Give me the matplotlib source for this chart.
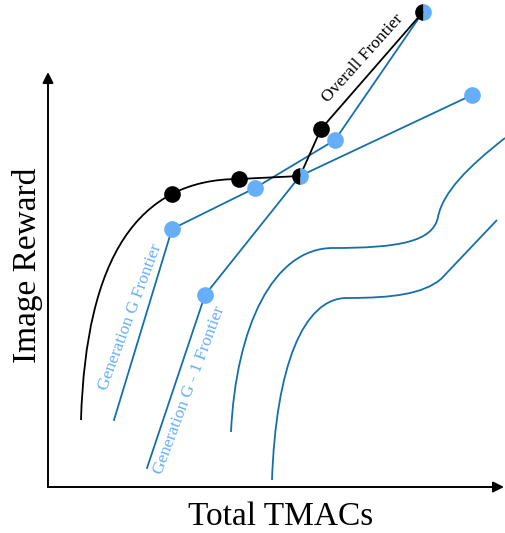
#!/usr/bin/env python3
"""
Schematic of the frontier search: Image Reward vs Total TMACs,
with the generation frontiers (blue) and the overall frontier (black).
"""

import matplotlib
matplotlib.use("Agg")
import matplotlib.pyplot as plt
from matplotlib.path import Path
from matplotlib.patches import PathPatch

# ---- data (schematic units, origin at the axis corner) ----
# generation G frontier (line + points)
gen_g_x = [66, 124, 207, 287, 375]
gen_g_y = [67, 258, 299, 347, 475]
gen_g_pts_x = [124, 207, 287]
gen_g_pts_y = [258, 299, 347]

# generation G - 1 frontier
gen_g1_x = [99, 157, 252, 424]
gen_g1_y = [19, 192, 311, 392]
gen_g1_pts_x = [157, 424]
gen_g1_pts_y = [192, 392]

# overall frontier: curved start, then straight segments
overall_curve_x = [33, 38, 90, 191]
overall_curve_y = [67, 230, 308, 308]
overall_line_x = [252, 273, 375]
overall_line_y = [311, 358, 475]
overall_pts_x = [124, 191, 273]
overall_pts_y = [293, 308, 358]

# points shared by both frontiers (half black / half blue)
shared_x = [252, 375]
shared_y = [311, 475]

# older frontiers (bezier control points, 3 segments / 2 segments + line)
old1_x = [183, 188, 225, 285, 350, 385, 390, 395, 420, 457]
old1_y = [55, 160, 239, 239, 239, 245, 270, 295, 320, 349]
old2_x = [224, 228, 255, 299, 345, 375, 393, 449]
old2_y = [7, 120, 189, 189, 189, 193, 208, 267]

dark_blue = "#1570aa"
light_blue = "#64aefa"

plt.rcParams["font.family"] = ["Liberation Serif", "DejaVu Serif"]

fig = plt.figure(figsize=(5.05, 5.33), dpi=100)
ax = fig.add_axes([48 / 505, 46 / 533, 455 / 505, 415 / 533])
ax.set_xlim(0, 455)
ax.set_ylim(0, 415)
ax.axis("off")

# axes with arrow heads
arrow = dict(arrowstyle="-|>", color="black", lw=1.4, mutation_scale=16,
             shrinkA=0, shrinkB=0)
ax.annotate("", xy=(0, 415), xytext=(0, 0), arrowprops=arrow, annotation_clip=False)
ax.annotate("", xy=(456, 0), xytext=(0, 0), arrowprops=arrow, annotation_clip=False)

# older frontiers as bezier curves
def curve(xs, ys, codes, color, z):
    path = Path(list(zip(xs, ys)), codes)
    patch = PathPatch(path, facecolor="none", edgecolor=color, lw=1.3,
                      clip_on=False, zorder=z)
    ax.add_patch(patch)

C4 = Path.CURVE4
curve(old1_x, old1_y, [Path.MOVETO] + [C4] * 9, dark_blue, 2)
curve(old2_x, old2_y, [Path.MOVETO] + [C4] * 6 + [Path.LINETO], dark_blue, 2)

# generation frontiers
ax.plot(gen_g_x, gen_g_y, color=dark_blue, lw=1.3, clip_on=False, zorder=2)
ax.plot(gen_g1_x, gen_g1_y, color=dark_blue, lw=1.3, clip_on=False, zorder=2)

# overall frontier
curve(overall_curve_x + overall_line_x, overall_curve_y + overall_line_y,
      [Path.MOVETO, C4, C4, C4, Path.LINETO, Path.LINETO, Path.LINETO],
      "black", 3)

# points
ms = 12
ax.plot(gen_g_pts_x + gen_g1_pts_x, gen_g_pts_y + gen_g1_pts_y, "o", ms=ms,
        color=light_blue, mec="none", clip_on=False, zorder=4)
ax.plot(overall_pts_x, overall_pts_y, "o", ms=ms, color="black", mec="none",
        clip_on=False, zorder=5)
ax.plot(shared_x, shared_y, "o", ms=ms, fillstyle="left", markerfacecolor="black",
        markerfacecoloralt=light_blue, mec="none", clip_on=False, zorder=5)

# frontier labels
ax.text(315, 429, "Overall Frontier", rotation=48, fontsize=12.5,
        ha="center", va="center", color="black")
ax.text(82, 170, "Generation G Frontier", rotation=69.5, fontsize=12.5,
        ha="center", va="center", color=light_blue)
ax.text(141, 97, "Generation G - 1 Frontier", rotation=69.5, fontsize=12.5,
        ha="center", va="center", color=light_blue)

# axis labels
ax.text(-20, 222, "Image Reward", rotation=90, fontsize=24,
        ha="center", va="center")
ax.text(233, -30, "Total TMACs", fontsize=24, ha="center", va="center")

fig.savefig("out.png", dpi=100)
